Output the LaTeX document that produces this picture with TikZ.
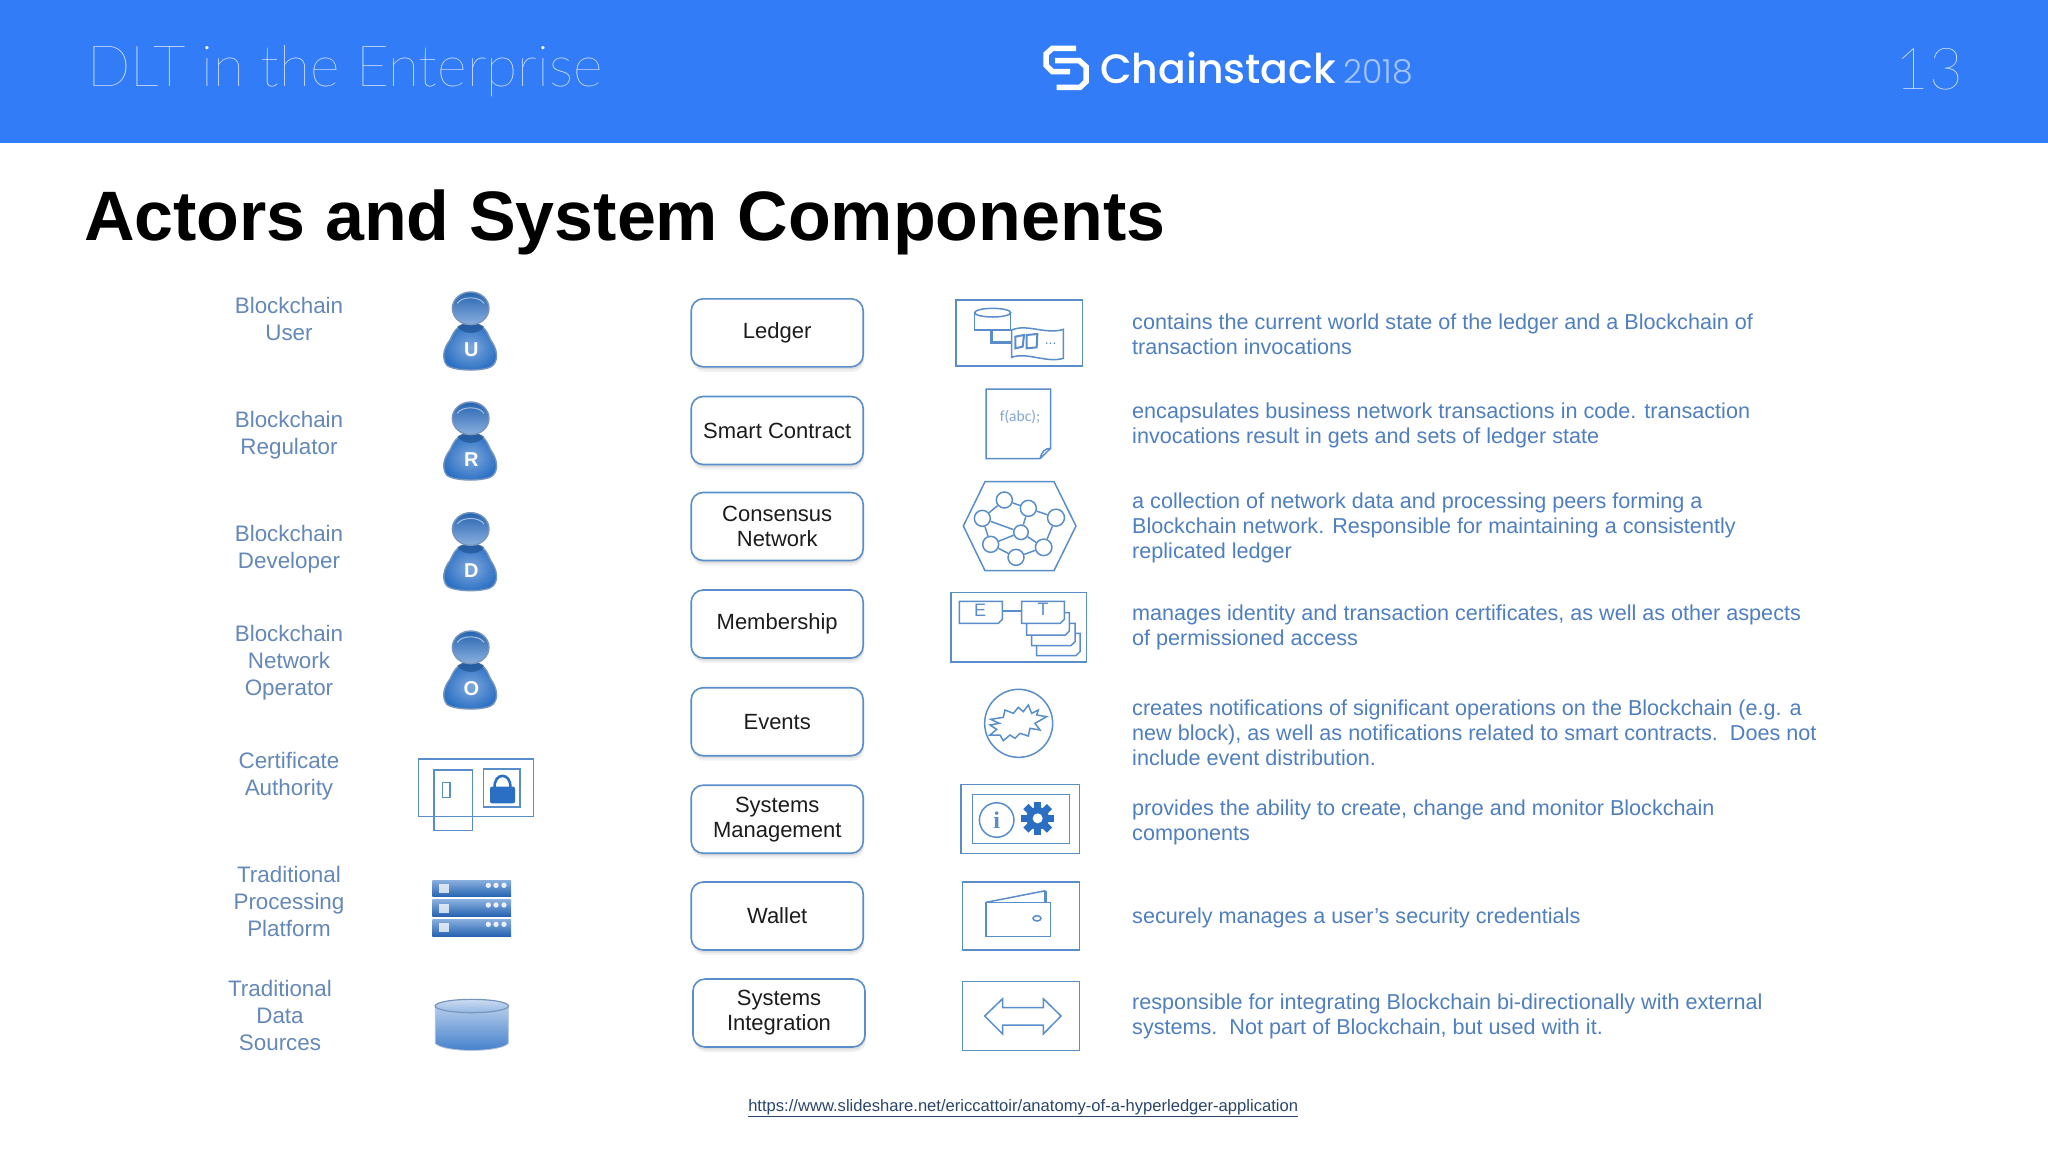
\documentclass[tikz,border=0pt]{standalone}
\usepackage{fontspec}
\usetikzlibrary{shadows}
\setmainfont{Liberation Sans}
\newfontfamily\thinf{Lato Hairline}
\newfontfamily\logof{Poppins Medium}
\newfontfamily\yearf{Poppins Light}
\newfontfamily\calf{Carlito}
\newfontfamily\serf{Liberation Serif}
\definecolor{hdr}{HTML}{327CF8}
\definecolor{desc}{HTML}{4F7FC0}
\definecolor{lab}{HTML}{6488B8}
\definecolor{edge}{HTML}{5A8ECB}
\definecolor{ink}{HTML}{1C1C1C}
\definecolor{iconblue}{HTML}{2A6FC4}
\definecolor{rim}{HTML}{7795BD}
\tikzset{
 descnode/.style={anchor=north west,inner sep=0pt,align=left,text=desc,font=\fontsize{21.6}{25}\selectfont},
 labnode/.style={anchor=north,inner sep=0pt,align=center,text=lab,font=\fontsize{22.4}{27}\selectfont},
 compbox/.style={draw=edge,line width=1.6pt,fill=white,rounded corners=12pt,text=ink,align=center,
   font=\fontsize{22}{25}\selectfont,minimum width=172pt,minimum height=68pt,inner sep=0pt,
   general shadow={fill=black,opacity=.06,shadow xshift=1pt,shadow yshift=-5pt},
   general shadow={fill=black,opacity=.08,shadow xshift=.5pt,shadow yshift=-2.5pt}},
 iconline/.style={draw=edge,line width=1.5pt},
 iconlinew/.style={draw=edge,line width=1.5pt,fill=white},
 peer/.style={circle,draw=edge,line width=1.5pt,fill=white,inner sep=0pt},
 zthree/.style={shift={(200,730)},x=.33333pt,y=-.33333pt},
 zfour/.style={shift={(680,280)},x=.33333pt,y=-.33333pt},
 zfive/.style={shift={(680,660)},x=.33333pt,y=-.33333pt},
}
\colorlet{iconlight}{iconblue!60!white}
\newcommand{\personicon}[3]{%
 \begin{scope}[shift={(200,{280+#1/3})},x=.33333pt,y=-.33333pt]
  \shade[draw=rim,line width=1.4pt,inner color=iconlight,outer color=iconblue]
   (812,130) .. controls (770,130) and (760,160) .. (750,180) .. controls (730,205) and (725,235) .. (740,255)
   .. controls (760,275) and (865,275) .. (880,255) .. controls (897,235) and (890,205) .. (872,180)
   .. controls (862,160) and (855,130) .. (812,130) -- cycle;
  \fill[iconblue!75!black,opacity=.7] (772,140) .. controls (790,165) and (835,165) .. (852,140) .. controls (835,125) and (790,125) .. (772,140) -- cycle;
  \shade[draw=rim,line width=1.4pt,top color=iconblue!90!black,bottom color=iconblue!55!white]
   (812,85) ellipse [x radius=55,y radius=49];
  \draw[white,opacity=.55,line width=1pt] (772,70) .. controls (785,48) and (838,48) .. (852,70);
  \node[text=white,inner sep=0pt,font=\fontsize{20}{20}\selectfont\bfseries] (#3) at (814,210) {#2};
 \end{scope}}
\newcommand{\notedoc}[5]{%
 \draw[iconlinew] (#1,#2) -- (#3,#2) -- (#3,#4-12) -- (#3-12,#4) -- (#1,#4) -- cycle;
 \fill[edge] (#3,#4-12) -- (#3-12,#4) -- (#3-5,#4-5) -- cycle;
 \coordinate (#5) at (#1,#2);}
\begin{document}
\begin{tikzpicture}[x=1pt,y=-1pt]
\useasboundingbox (0,0) rectangle (2048,1152);
\fill[white] (0,0) rectangle (2048,1152);
\fill[hdr] (0,0) rectangle (2048,143);

% header
\node[anchor=base west,inner sep=0pt,text=white,font=\thinf\fontsize{57}{57}\selectfont] (deck) at (87,86) {DLT in the Enterprise};
\node[anchor=base west,inner sep=0pt,text=white,font=\logof\fontsize{41}{41}\selectfont] (brand) at (1100,83) {Chainstack};
\node[anchor=base west,inner sep=0pt,text=hdr!45!white,font=\yearf\fontsize{33}{33}\selectfont] (year) at (1343,83) {2018};
\node[anchor=base east,inner sep=0pt,text=white,font=\thinf\fontsize{58}{58}\selectfont] (pageno) at (1963,89) {13};
\begin{scope}[shift={(1020,30)},x=.33333pt,y=-.33333pt]
 \draw[white,line width=5.5pt,line join=miter] (168,55) -- (97,55) -- (78,72) -- (78,106) -- (97,125) -- (150,125);
 \draw[white,line width=5.5pt,line join=miter] (105,92) -- (178,92) -- (198,110) -- (198,155) -- (180,172) -- (110,172);
\end{scope}

% title
\node[anchor=base west,inner sep=0pt,text=black,font=\fontsize{70}{70}\selectfont\bfseries] (title) at (84,240.5) {Actors and System Components};

% left labels
\node[labnode] (l1) at (289,294.5) {\strut Blockchain\\\strut User};
\node[labnode] (l2) at (289,408) {\strut Blockchain\\\strut Regulator};
\node[labnode] (l3) at (289,522) {\strut Blockchain\\\strut Developer};
\node[labnode] (l4) at (289,622) {\strut Blockchain\\\strut Network\\\strut Operator};
\node[labnode] (l5) at (289,749.5) {\strut Certificate\\\strut Authority};
\node[labnode] (l6) at (289,863) {\strut Traditional\\\strut Processing\\\strut Platform};
\node[labnode] (l7) at (280,977) {\strut Traditional\\\strut Data\\\strut Sources};

% persons
\personicon{0}{U}{pu}
\personicon{330}{R}{pr}
\personicon{662}{D}{pd}
\personicon{1017}{O}{po}

% certificate authority
\begin{scope}[zthree]
 \draw[iconline] (656,87) rectangle (1000,260);
 \draw[iconline] (702,120) rectangle (817,301);
 \draw[iconline] (727,157) rectangle (750,202);
 \draw[iconline] (851,117) rectangle (960,231);
 \draw[iconblue,line width=2.6pt] (884,175) .. controls (880,125) and (935,125) .. (931,175);
 \fill[iconblue,rounded corners=2pt] (870,170) rectangle (945,220);
\end{scope}

% server
\begin{scope}[zthree]
 \foreach \t/\b in {450/500,509/558,567/618}{
  \shade[top color=iconblue!55!white,bottom color=iconblue!90!black] (697,\t) rectangle (933,\b);
  \fill[white,opacity=.75] (716,\t+12) rectangle (746,\t+40);
  \foreach \x in {865,888,912} \fill[white,opacity=.85] (\x,\t+16) circle [radius=8];
 }
\end{scope}

% data cylinder
\begin{scope}[zthree]
 \shade[top color=iconblue!35!white,bottom color=iconblue!90!white,draw=rim!60!white,line width=.8pt]
   (706,828) -- (706,940) .. controls (730,968) and (900,968) .. (925,940) -- (925,828) -- cycle;
 \shade[draw=rim,line width=1.2pt,top color=iconblue!25!white,bottom color=iconblue!50!white] (815.5,828) ellipse [x radius=110,y radius=20];
\end{scope}

% component boxes
\node[compbox] (ledger) at (777.2,332.8) {Ledger};
\node[compbox] (smart) at (777.2,430.5) {Smart Contract};
\node[compbox] (cons) at (777.2,526.5) {Consensus\\Network};
\node[compbox] (memb) at (777.2,624) {Membership};
\node[compbox] (evts) at (777.2,721.7) {Events};
\node[compbox] (sysm) at (777.2,819.2) {Systems\\Management};
\node[compbox] (wall) at (777.2,916) {Wallet};
\node[compbox] (sysi) at (779,1013) {Systems\\Integration};

% ledger icon
\begin{scope}[zfour]
 \draw[iconline] (828,60) rectangle (1208,258);
 \draw[iconlinew] (884,98) -- (884,150) -- (992,150) -- (992,98);
 \draw[iconlinew] (938,98) ellipse [x radius=54,y radius=13];
 \coordinate (ldb) at (935,150);
 \draw[iconlinew] (995,150) .. controls (1040,130) and (1100,165) .. (1150,148) -- (1150,235) .. controls (1100,250) and (1040,215) .. (995,232) -- cycle;
 \coordinate (ldoc) at (997,188);
 \draw[edge,line width=2.6pt] (ldb) |- (ldoc);
 \draw[iconlinew,line width=2pt] (1006,170) -- (1032,165) -- (1028,200) -- (1006,205) -- cycle;
 \draw[iconlinew,line width=2pt] (1040,165) -- (1072,162) -- (1070,202) -- (1040,205) -- cycle;
 \node[text=edge,inner sep=0pt,font=\fontsize{14}{14}\selectfont] (ldots) at (1112,192) {...};
\end{scope}

% contract icon
\begin{scope}[zfour]
 \draw[iconline] (918,327) -- (1112,327) -- (1112,505) -- (1080,536) -- (918,536) -- cycle;
 \draw[iconline] (1112,505) .. controls (1095,505) and (1085,515) .. (1080,536);
 \node[text=desc!70!white,inner sep=0pt,font=\calf\fontsize{15.5}{15.5}\selectfont] (fabc) at (1020,412) {f(abc);};
\end{scope}

% network icon
\begin{scope}[zfour]
 \draw[iconline] (850,738) -- (915,605) -- (1122,605) -- (1188,738) -- (1122,872) -- (915,872) -- cycle;
 \node[peer,minimum size=16pt] (n1) at (973,660) {};
 \node[peer,minimum size=16pt] (n2) at (907,715) {};
 \node[peer,minimum size=16pt] (n3) at (1045,685) {};
 \node[peer,minimum size=17pt] (n4) at (1128,713) {};
 \node[peer,minimum size=14.5pt] (n5) at (1023,757) {};
 \node[peer,minimum size=16pt] (n6) at (932,793) {};
 \node[peer,minimum size=16.5pt] (n7) at (1091,802) {};
 \node[peer,minimum size=16pt] (n8) at (1008,832) {};
 \foreach \a/\b in {n1/n2,n1/n3,n3/n4,n2/n5,n3/n5,n5/n7,n5/n6,n2/n6,n6/n8,n8/n7,n4/n7}
  \draw[iconline] (\a) -- (\b);
\end{scope}

% membership icon
\begin{scope}[zfour]
 \draw[iconline] (813,938) rectangle (1220,1146);
 \notedoc{1070}{1060}{1200}{1127}{d4}
 \notedoc{1055}{1030}{1185}{1097}{d3}
 \notedoc{1040}{998}{1168}{1065}{d2}
 \notedoc{1025}{964}{1153}{1030}{d1}
 \notedoc{838}{964}{967}{1030}{d0}
 \node[text=edge,inner sep=0pt,font=\fontsize{18}{18}\selectfont] (elabel) at (900,992) {E};
 \node[text=edge,inner sep=0pt,font=\fontsize{18}{18}\selectfont] (tlabel) at (1089,988) {T};
 \coordinate (ea) at (967,993);
 \coordinate (ta) at (1025,993);
 \draw[iconline] (ea) -- (ta);
\end{scope}

% events icon
\begin{scope}[zfive]
 \node[circle,draw=edge,line width=1.5pt,inner sep=0pt,minimum size=68pt] (burstc) at (1016,190) {};
 \draw[iconline,line join=miter] (932,178) -- (970,172) -- (975,150) -- (1000,160) -- (1015,142) -- (1030,155) -- (1045,135) -- (1055,160) -- (1075,150) -- (1070,165) -- (1100,170) -- (1065,190) -- (1080,210) -- (1050,205) -- (1045,228) -- (1020,220) -- (1005,235) -- (990,225) -- (970,242) -- (960,225) -- (930,225) -- (950,208) -- (930,195) -- (958,190) -- cycle;
\end{scope}

% management icon
\begin{scope}[zfive]
 \draw[iconline] (843,374) rectangle (1199,581);
 \draw[iconline] (878,403) rectangle (1168,551);
 \node[circle,draw=edge,line width=1.5pt,inner sep=0pt,minimum size=34.5pt,text=edge,font=\serf\bfseries\fontsize{24}{24}\selectfont] (info) at (950,480) {i};
 \fill[iconblue] (1073,475) circle [radius=34];
 \foreach \a in {0,45,...,315}
  \fill[iconblue,rotate around={\a:(1073,475)}] (1062,425) rectangle (1084,450);
 \fill[white] (1073,475) circle [radius=15];
\end{scope}

% wallet icon
\begin{scope}[zfive]
 \draw[iconline] (847,666) rectangle (1199,870);
 \draw[iconline] (918,727) rectangle (1112,829);
 \draw[iconline] (918,727) -- (1097,692);
 \draw[edge,line width=2.4pt] (1097,692) -- (1097,727);
 \draw[iconline] (1071,775) ellipse [x radius=12,y radius=8];
\end{scope}

% integration icon
\begin{scope}[zfive]
 \draw[iconline] (847,964) rectangle (1199,1172);
 \draw[iconline] (914,1068) -- (968,1016) -- (968,1043) -- (1090,1043) -- (1090,1016) -- (1143,1068) -- (1090,1122) -- (1090,1095) -- (968,1095) -- (968,1122) -- cycle;
\end{scope}

% descriptions
\node[descnode] (t1) at (1132,311.8) {\strut contains the current world state of the ledger and a Blockchain of\\\strut transaction invocations};
\node[descnode] (t2) at (1132,401.2) {\strut encapsulates business network transactions in code. transaction\\\strut invocations result in gets and sets of ledger state};
\node[descnode] (t3) at (1132,491.2) {\strut a collection of network data and processing peers forming a\\\strut Blockchain network. Responsible for maintaining a consistently\\\strut replicated ledger};
\node[descnode] (t4) at (1132,602.8) {\strut manages identity and transaction certificates, as well as other aspects\\\strut of permissioned access};
\node[descnode] (t5) at (1132,697.8) {\strut creates notifications of significant operations on the Blockchain (e.g. a\\\strut new block), as well as notifications related to smart contracts.\ \ Does not\\\strut include event distribution.};
\node[descnode] (t6) at (1132,797.8) {\strut provides the ability to create, change and monitor Blockchain\\\strut components};
\node[descnode] (t7) at (1132,905.5) {\strut securely manages a user's security credentials};
\node[descnode] (t8) at (1132,992.2) {\strut responsible for integrating Blockchain bi-directionally with external\\\strut systems.\ \ Not part of Blockchain, but used with it.};

% link
\node[inner sep=0pt,text=desc!55!black,font=\fontsize{16.6}{20}\selectfont] (link) at (1023.2,1108) {\underline{https://www.slideshare.net/ericcattoir/anatomy-of-a-hyperledger-application}};
\end{tikzpicture}
\end{document}
